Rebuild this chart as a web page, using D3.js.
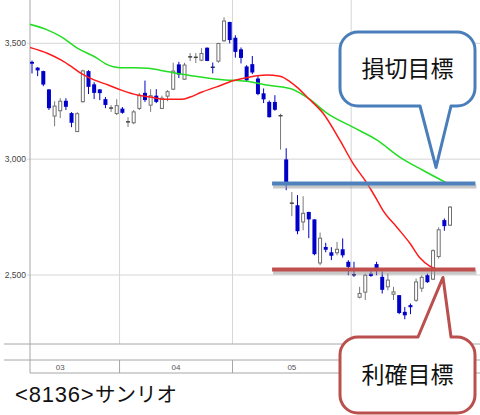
<!DOCTYPE html>
<html>
<head>
<meta charset="utf-8">
<script src="https://cdn.jsdelivr.net/npm/d3@7"></script>
<style>
  body { margin: 0; background: #fff; }
  svg { display: block; }
</style>
</head>
<body>
<svg width="480" height="415"></svg>
<script>
// daily candles, oldest first (yen)
const opens  = [3420,3395,3380,3301,3186,3209,3252,3199,3119,3248,3380,3323,3301,3259,3219,3197,3218,3158,3157,3219,
                3286,3233,3274,3219,3272,3302,3409,3345,3440,3438,3427,3481,3397,3423,3511,3592,3524,3474,3400,3410,
                3348,3284,3247,3247,3186,2999,2809,2801,2729,2772,2740,2552,2621,2598,2596,2611,2557,2502,2404,2426,
                2506,2547,2492,2449,2417,2413,2341,2370,2391,2443,2499,2482,2580,2737,2715];
const highs  = [3425,3397,3382,3302,3250,3263,3263,3203,3203,3386,3384,3332,3302,3268,3233,3259,3225,3181,3212,3286,
                3339,3302,3302,3274,3298,3416,3420,3416,3458,3458,3479,3482,3417,3502,3612,3593,3535,3482,3406,3445,
                3358,3305,3253,3276,3196,3047,2858,2845,2840,2773,2741,2683,2639,2620,2643,2658,2564,2557,2449,2506,
                2521,2557,2516,2506,2449,2413,2362,2377,2485,2499,2506,2611,2706,2744,2797];
const lows   = [3370,3358,3315,3212,3142,3177,3212,3138,3117,3244,3281,3259,3255,3220,3204,3190,3196,3139,3151,3212,
                3247,3204,3242,3216,3250,3298,3350,3343,3423,3415,3423,3423,3370,3416,3506,3500,3438,3413,3335,3367,
                3276,3242,3180,3209,3041,2866,2754,2676,2693,2659,2585,2542,2598,2564,2585,2575,2499,2492,2399,2392,
                2492,2499,2420,2434,2392,2331,2309,2331,2384,2427,2466,2478,2571,2691,2711];
const closes = [3412,3383,3322,3220,3229,3250,3226,3157,3196,3381,3312,3286,3285,3234,3222,3231,3200,3164,3204,3276,
                3255,3274,3247,3263,3291,3380,3365,3406,3443,3441,3456,3424,3396,3499,3596,3514,3463,3437,3340,3374,
                3281,3258,3181,3213,3189,2896,2811,2689,2766,2740,2590,2659,2609,2583,2611,2585,2535,2500,2420,2499,
                2496,2521,2436,2478,2427,2336,2326,2361,2470,2490,2469,2605,2695,2711,2793];

// moving averages: [day index, yen]
const maShort = [[-0.4,3482],[2.8,3456],[5.2,3427],[7,3399],[8.7,3370],[11.1,3341],[13.5,3320],[15.8,3298],
                 [18.8,3276],[20.9,3268],[23.5,3258],[26.5,3258],[28,3268],[30,3289],[32.7,3312],[35.6,3338],
                 [38.6,3355],[41.5,3363],[43.9,3358],[45.7,3334],[46.9,3311],[48.9,3263],[51.5,3199],[54.5,3082],
                 [56.8,2983],[59.3,2896],[61.1,2823],[62.1,2780],[64.6,2706],[66.9,2637],[68.7,2573],[70.4,2538],
                 [72,2522]];
const maLong  = [[-0.4,3582],[2.8,3557],[5.2,3528],[8.1,3478],[11.1,3442],[13.5,3406],[15.2,3396],[20.5,3392],
                 [24.1,3377],[28.9,3358],[33.3,3344],[38.6,3334],[41.5,3320],[45.7,3305],[48.9,3263],[52.2,3199],
                 [56.8,3138],[61.1,3082],[65.1,3009],[69.2,2952],[73.5,2896]];

const yTicks = [2500, 3000, 3500];
const months = ['03', '04', '05'];
const monthBounds = [-5.5, 15.5, 35.5, 56.5];

const stopLoss = 2895;
const takeProfit = 2524;
const title = '<8136>';
const titleName = 'サンリオ';

const svg = d3.select('svg');
const plot = { left: 30, right: 480, top: 0, bottom: 344 };

const x = d3.scaleLinear().domain([0, 74]).range([32, 450]);
const y = d3.scaleLinear().domain([2500, 3500]).range([275, 43.3]);

const candles = opens.map((o, i) => ({ i, o, h: highs[i], l: lows[i], c: closes[i] }));

svg.append('defs').append('clipPath').attr('id', 'plotClip')
  .append('rect')
  .attr('x', plot.left).attr('y', plot.top)
  .attr('width', plot.right - plot.left).attr('height', plot.bottom - plot.top);

// grid
svg.append('g')
  .selectAll('line')
  .data(yTicks)
  .join('line')
  .attr('x1', plot.left - 3).attr('x2', plot.right)
  .attr('y1', d => y(d)).attr('y2', d => y(d))
  .attr('stroke', '#d6d6d6');

svg.append('g')
  .selectAll('line')
  .data(monthBounds.filter(b => x(b) > plot.left))
  .join('line')
  .attr('x1', d => x(d)).attr('x2', d => x(d))
  .attr('y1', plot.top).attr('y2', plot.bottom)
  .attr('stroke', '#d6d6d6');

svg.append('g')
  .selectAll('text')
  .data(yTicks)
  .join('text')
  .attr('x', plot.left - 4)
  .attr('y', d => y(d))
  .attr('dy', '0.35em')
  .attr('text-anchor', 'end')
  .attr('font-family', '"Liberation Sans Narrow", "Liberation Sans", sans-serif')
  .attr('font-size', 8.5)
  .attr('fill', '#444')
  .text(d3.format(','));

// frame and date band
const frame = svg.append('g').attr('stroke', '#a6a6a6').attr('fill', 'none');
frame.append('line').attr('x1', plot.left).attr('x2', plot.left).attr('y1', 0).attr('y2', 373);
frame.append('line').attr('x1', 4).attr('x2', plot.right).attr('y1', plot.bottom).attr('y2', plot.bottom);
frame.append('line').attr('x1', 4).attr('x2', plot.right).attr('y1', 360).attr('y2', 360);
frame.append('line').attr('x1', plot.left).attr('x2', plot.right).attr('y1', 373).attr('y2', 373);
frame.selectAll('.tick')
  .data(monthBounds.filter(b => x(b) > plot.left))
  .join('line')
  .attr('class', 'tick')
  .attr('x1', d => x(d)).attr('x2', d => x(d))
  .attr('y1', 360).attr('y2', 373);

svg.append('g')
  .selectAll('text')
  .data(months)
  .join('text')
  .attr('x', (d, k) => x((monthBounds[k] + monthBounds[k + 1]) / 2))
  .attr('y', 367)
  .attr('dy', '0.35em')
  .attr('text-anchor', 'middle')
  .attr('font-family', '"Liberation Sans Narrow", "Liberation Sans", sans-serif')
  .attr('font-size', 8)
  .attr('fill', '#555')
  .text(d => d);

// candles
const g = svg.append('g').attr('clip-path', 'url(#plotClip)');
const BLUE = '#0000c8';
const isDown = d => d.c < d.o;

g.selectAll('.wick')
  .data(candles)
  .join('line')
  .attr('class', 'wick')
  .attr('x1', d => x(d.i)).attr('x2', d => x(d.i))
  .attr('y1', d => y(d.h)).attr('y2', d => y(d.l))
  .attr('stroke', d => isDown(d) ? BLUE : '#7a7a7a');

const bodies = candles.filter(d => Math.abs(y(d.o) - y(d.c)) >= 1.5);
const dojis = candles.filter(d => Math.abs(y(d.o) - y(d.c)) < 1.5);

g.selectAll('.body')
  .data(bodies)
  .join('rect')
  .attr('class', 'body')
  .attr('x', d => isDown(d) ? x(d.i) - 2 : x(d.i) - 1.5)
  .attr('width', d => isDown(d) ? 4 : 3)
  .attr('y', d => y(Math.max(d.o, d.c)))
  .attr('height', d => Math.abs(y(d.o) - y(d.c)))
  .attr('fill', d => isDown(d) ? BLUE : '#fff')
  .attr('stroke', d => isDown(d) ? 'none' : '#6e6e6e');

g.selectAll('.doji')
  .data(dojis)
  .join('line')
  .attr('class', 'doji')
  .attr('x1', d => x(d.i) - 2).attr('x2', d => x(d.i) + 2)
  .attr('y1', d => y((d.o + d.c) / 2)).attr('y2', d => y((d.o + d.c) / 2))
  .attr('stroke', d => isDown(d) ? '#222266' : '#444')
  .attr('stroke-width', 1.5);

// moving averages
const line = d3.line()
  .x(d => x(d[0]))
  .y(d => y(d[1]))
  .curve(d3.curveMonotoneX);

g.append('path').datum(maLong)
  .attr('d', line).attr('fill', 'none')
  .attr('stroke', '#22dd22').attr('stroke-width', 1.5);
g.append('path').datum(maShort)
  .attr('d', line).attr('fill', 'none')
  .attr('stroke', '#ff1a1a').attr('stroke-width', 1.5);

// target lines, with a soft grey shadow underneath
const targetFrom = 42.5, targetTo = 78.5;
const targets = [
  { price: stopLoss, color: '#4f81bd' },
  { price: takeProfit, color: '#c0504d' }
];
svg.append('g')
  .selectAll('line')
  .data(targets)
  .join('line')
  .attr('x1', x(targetFrom) + 1).attr('x2', x(targetTo) + 1)
  .attr('y1', d => y(d.price) + 3).attr('y2', d => y(d.price) + 3)
  .attr('stroke', '#9a9a9a').attr('stroke-opacity', 0.55).attr('stroke-width', 4);
svg.append('g')
  .selectAll('line')
  .data(targets)
  .join('line')
  .attr('x1', x(targetFrom)).attr('x2', x(targetTo))
  .attr('y1', d => y(d.price)).attr('y2', d => y(d.price))
  .attr('stroke', d => d.color).attr('stroke-width', 4);

// title
const t = svg.append('text')
  .attr('y', 402)
  .attr('fill', '#111');
t.append('tspan')
  .attr('x', 15)
  .attr('font-family', '"Liberation Sans", Arial, sans-serif')
  .attr('font-size', 22)
  .attr('letter-spacing', 0.8)
  .text(title);
t.append('tspan')
  .attr('x', 95)
  .attr('font-family', '"Noto Sans CJK JP", sans-serif')
  .attr('font-size', 20.5)
  .text(titleName);

// callouts
function calloutPath(x0, y0, x1, y1, r, baseL, baseR, tipX, tipY, pointerOnTop) {
  const p = d3.path();
  p.moveTo(x0 + r, y0);
  if (pointerOnTop) {
    p.lineTo(baseL, y0);
    p.lineTo(tipX, tipY);
    p.lineTo(baseR, y0);
  }
  p.lineTo(x1 - r, y0);
  p.arcTo(x1, y0, x1, y0 + r, r);
  p.lineTo(x1, y1 - r);
  p.arcTo(x1, y1, x1 - r, y1, r);
  if (!pointerOnTop) {
    p.lineTo(baseR, y1);
    p.lineTo(tipX, tipY);
    p.lineTo(baseL, y1);
  }
  p.lineTo(x0 + r, y1);
  p.arcTo(x0, y1, x0, y1 - r, r);
  p.lineTo(x0, y0 + r);
  p.arcTo(x0, y0, x0 + r, y0, r);
  p.closePath();
  return p.toString();
}

const callouts = [
  { label: '損切目標', box: [340, 32, 475, 106], base: [420, 451], tip: [436, y(stopLoss) - 16], top: false, color: '#4a7ebb' },
  { label: '利確目標', box: [340, 337, 475, 413], base: [418, 451], tip: [443, y(takeProfit) + 8], top: true, color: '#b9504e' }
];

const cg = svg.append('g')
  .selectAll('g')
  .data(callouts)
  .join('g');

cg.append('path')
  .attr('d', d => calloutPath(d.box[0], d.box[1], d.box[2], d.box[3], 18, d.base[0], d.base[1], d.tip[0], d.tip[1], d.top))
  .attr('fill', '#fff')
  .attr('stroke', d => d.color)
  .attr('stroke-width', 3)
  .attr('stroke-linejoin', 'round');

cg.append('text')
  .attr('x', d => (d.box[0] + d.box[2]) / 2)
  .attr('y', d => (d.box[1] + d.box[3]) / 2)
  .attr('dy', '0.36em')
  .attr('text-anchor', 'middle')
  .attr('font-family', '"Noto Sans CJK JP", sans-serif')
  .attr('font-size', 23)
  .attr('fill', '#111')
  .text(d => d.label);
</script>
</body>
</html>
